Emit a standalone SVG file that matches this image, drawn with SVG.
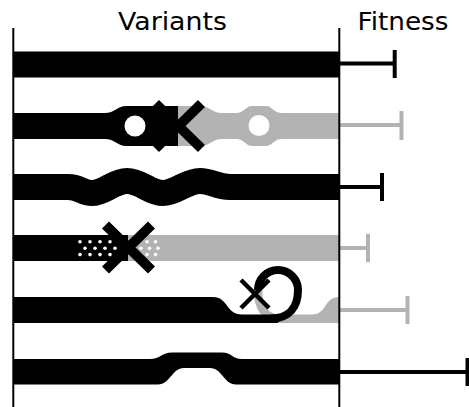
<svg xmlns="http://www.w3.org/2000/svg" width="469" height="407" viewBox="0 0 469 407">
<style>
.blk{fill:#000}
.gry{fill:#b3b3b3}
.fb{stroke:#000;stroke-width:4;fill:none}
.fg{stroke:#b3b3b3;stroke-width:4;fill:none}
.x{stroke:#000;stroke-width:10;fill:none}
.dot{fill:#fff}
.lbl{font-family:"DejaVu Sans",sans-serif;font-size:24px;fill:#000;text-anchor:middle}
.axis{stroke:#000;stroke-width:2}
</style>
<defs>
<clipPath id="leftHalf2"><rect x="0" y="90" width="178" height="70"/></clipPath>
</defs>
<rect width="469" height="407" fill="#fff"/>
<g id="titles">
<text class="lbl" x="172.5" y="29.5" textLength="109" lengthAdjust="spacingAndGlyphs">Variants</text>
<text class="lbl" x="403" y="29.5" textLength="91" lengthAdjust="spacingAndGlyphs">Fitness</text>
</g>
<g id="variant1">
<rect class="blk" x="13" y="51.5" width="326" height="26"/>
<path class="fb" d="M339,63.5H394.7M394.7,50V78"/>
</g>
<g id="variant2">
<path id="band2" class="gry" d="M13,113 L105,113 C115,113 117,106 127,106 L200,106 C210,106 212,113 222,113 L236,113 C244,113 246,106 252,106 L266,106 C272,106 274,113 282,113 L339,113 L339,139 L282,139 C274,139 272,146 266,146 L252,146 C246,146 244,139 236,139 L222,139 C212,139 210,146 200,146 L127,146 C117,146 115,139 105,139 L13,139 Z"/>
<path class="blk" clip-path="url(#leftHalf2)" d="M13,113 L105,113 C115,113 117,106 127,106 L200,106 C210,106 212,113 222,113 L236,113 L236,139 L222,139 C212,139 210,146 200,146 L127,146 C117,146 115,139 105,139 L13,139 Z"/>
<circle class="dot" cx="135" cy="126" r="10.5"/>
<circle class="dot" cx="259" cy="125.5" r="10.5"/>
<path class="x" d="M155.5,103.5L201.5,148.5M201.5,103.5L155.5,148.5"/>
<path class="fg" d="M339,125H401.5M401.5,111V140"/>
</g>
<g id="variant3">
<path d="M13,187 L68,187 C80,187 82,193 92,193 C104,193 114,181 127,181 C141,181 150,193 163,193 C176,193 186,181 200,181 C212,181 216,187 230,187 L339,187" stroke="#000" stroke-width="26" fill="none"/>
<path class="fb" d="M339,187H382M382,173V201"/>
</g>
<g id="variant4">
<rect class="gry" x="128" y="235" width="211" height="26"/>
<rect class="blk" x="13" y="235" width="115" height="26"/>
<g class="dot">
<circle cx="80" cy="241.8" r="1.8"/><circle cx="90" cy="241.8" r="1.8"/><circle cx="100" cy="241.8" r="1.8"/><circle cx="110" cy="241.8" r="1.8"/>
<circle cx="85" cy="248.2" r="1.8"/><circle cx="95" cy="248.2" r="1.8"/><circle cx="105" cy="248.2" r="1.8"/><circle cx="115" cy="248.2" r="1.8"/>
<circle cx="80" cy="254.6" r="1.8"/><circle cx="90" cy="254.6" r="1.8"/><circle cx="100" cy="254.6" r="1.8"/><circle cx="110" cy="254.6" r="1.8"/>
<circle cx="147" cy="241.8" r="1.8"/><circle cx="155.5" cy="241.8" r="1.8"/>
<circle cx="141" cy="248.2" r="1.8"/><circle cx="149.5" cy="248.2" r="1.8"/><circle cx="158" cy="248.2" r="1.8"/>
<circle cx="147" cy="254.6" r="1.8"/><circle cx="155.5" cy="254.6" r="1.8"/>
</g>
<path class="x" d="M105.5,225L151.5,270M151.5,225L105.5,270"/>
<path class="fg" d="M339,248H368M368,234V262"/>
</g>
<g id="variant5">
<path class="gry" d="M270,314.5 L312,314.5 C327,314.5 324,297 339,297 L339,323 L270,323 Z"/>
<path d="M258,290 C258,307 265,318.75 280,318.75" stroke="#b3b3b3" stroke-width="8.5" fill="none"/>
<path class="blk" d="M13,297 L213,297 C228,297 226,314.5 242,314.5 L278,314.5 L278,323 L13,323 Z"/>
<path d="M270,318.75 C290,318.75 298,306 298,290 A20,20 0 0 0 258,290" stroke="#000" stroke-width="8" fill="none"/>
<path d="M241,280L269,308M269,280L241,308" stroke="#000" stroke-width="4.5" fill="none"/>
<path class="fg" d="M339,310H407.5M407.5,296V324"/>
</g>
<g id="variant6">
<path class="blk" d="M13,359 L150,359 C160,359 162,352.5 172,352.5 L222,352.5 C232,352.5 232,359 242,359 L339,359 L339,384.5 L236,384.5 C224,384.5 222,368 210,368 L184,368 C172,368 170,384.5 158,384.5 L13,384.5 Z"/>
<path class="fb" d="M339,372H467.5M467.5,358V386"/>
</g>
<g id="connectors">
<line class="axis" x1="13.3" y1="28" x2="13.3" y2="407"/>
<line class="axis" x1="339.3" y1="28" x2="339.3" y2="407"/>
</g>
</svg>
